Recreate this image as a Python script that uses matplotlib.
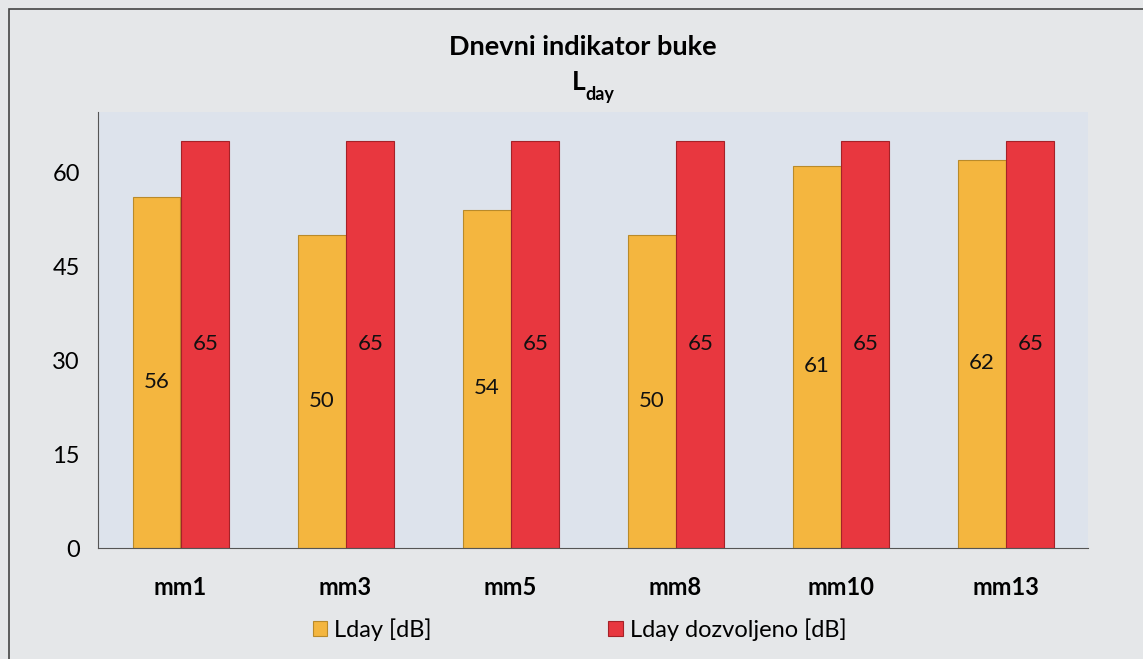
import numpy as np
import matplotlib.pyplot as plt
from matplotlib.patches import Rectangle

# data
sites=['mm1','mm3','mm5','mm8','mm10','mm13']
lday=[56,50,54,50,61,62]
lday_allowed=[65,65,65,65,65,65]
yticks=[0,15,30,45,60]

plt.rcParams['font.family']=['Lato','DejaVu Sans']

fig=plt.figure(figsize=(11.43,6.59),dpi=100)
fig.patch.set_facecolor('#e5e7e9')
# outer frame
fig.patches.append(Rectangle((0.008,-0.01),0.995,0.997,transform=fig.transFigure,
                             fill=False,edgecolor='#444444',linewidth=1.2))

ax=fig.add_axes([0.0857,0.1684,0.8663,0.6616])
ax.set_facecolor('#dde3ec')

x=np.arange(len(sites))+0.5
w=0.29
b1=ax.bar(x-w/2,lday,width=w,color='#f4b63f',edgecolor='#b98a2a',linewidth=0.8,label='Lday [dB]')
b2=ax.bar(x+w/2+0.005,lday_allowed,width=w,color='#e8373f',edgecolor='#a52228',linewidth=0.8,label='Lday dozvoljeno [dB]')

for rect,v in zip(b1,lday):
    ax.text(rect.get_x()+rect.get_width()/2,v/2-1.5,str(v),ha='center',va='center',fontsize=16,color='#111111')
for rect,v in zip(b2,lday_allowed):
    ax.text(rect.get_x()+rect.get_width()/2,v/2,str(v),ha='center',va='center',fontsize=16,color='#111111')

ax.set_xlim(0,len(sites))
ax.set_ylim(0,69.6)
ax.set_yticks(yticks)
ax.set_yticklabels([str(t) for t in yticks],fontsize=17)
ax.set_xticks(x)
ax.set_xticklabels(sites,fontsize=17,fontweight='bold')
ax.tick_params(axis='y',length=0,pad=13)
ax.tick_params(axis='x',length=0,pad=20)
for s in ['top','right']:
    ax.spines[s].set_visible(False)
ax.spines['left'].set_color('#555555')
ax.spines['bottom'].set_color('#555555')

fig.text(0.51,0.928,'Dnevni indikator buke',ha='center',va='center',fontsize=19.5,fontweight='bold')
fig.text(0.5125,0.876,'L',ha='right',va='center',fontsize=19,fontweight='bold')
fig.text(0.5125,0.857,'day',ha='left',va='center',fontsize=13,fontweight='bold')

fig.legend(loc='center',bbox_to_anchor=(0.507,0.045),ncol=2,frameon=False,fontsize=17,
           handlelength=0.6,handleheight=0.6,handletextpad=0.3,columnspacing=7.5)

fig.savefig('out.png',dpi=100,facecolor=fig.get_facecolor())
